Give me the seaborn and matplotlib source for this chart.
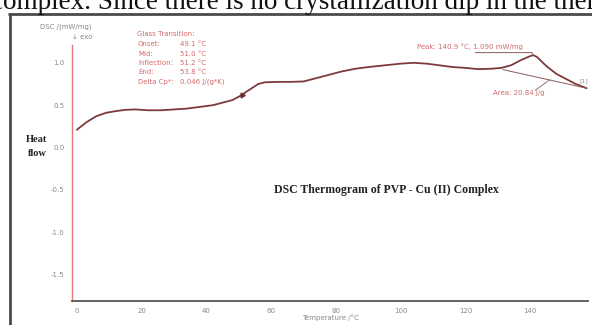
import matplotlib
matplotlib.use("Agg")
import matplotlib.pyplot as plt
import seaborn as sns
import pandas as pd
from matplotlib.lines import Line2D
from matplotlib.ticker import MultipleLocator

# DSC heating curve of the PVP - Cu(II) complex
temperature = [0, 3, 6, 9, 12, 15, 18, 22, 26, 30, 34, 38, 42, 45, 48, 50, 52, 54,
               56, 58, 62, 66, 70, 74, 78, 82, 86, 90, 95, 100, 104, 108, 112, 116,
               120, 124, 128, 131, 134, 137, 140, 140.9, 142, 145, 148, 151, 154, 157.4]
heat_flow = [0.21, 0.30, 0.37, 0.41, 0.43, 0.445, 0.45, 0.44, 0.44, 0.45, 0.46, 0.48,
             0.50, 0.53, 0.56, 0.60, 0.65, 0.70, 0.75, 0.77, 0.775, 0.775, 0.78, 0.82,
             0.86, 0.90, 0.93, 0.95, 0.97, 0.99, 1.00, 0.99, 0.97, 0.95, 0.94, 0.925,
             0.93, 0.94, 0.97, 1.03, 1.08, 1.09, 1.07, 0.96, 0.87, 0.81, 0.75, 0.70]

# integration baseline under the melting peak
baseline_t = [131.5, 157.4]
baseline_hf = [0.92, 0.70]

x_ticks = [0, 20, 40, 60, 80, 100, 120, 140]
y_ticks = [1.0, 0.5, 0.0, -0.5, -1.0, -1.5]
y_tick_labels = ["1.0", "0.5", "0.0", "-0.5", "-1.0", "-1.5"]

glass_labels = ["Onset:", "Mid:", "Inflection:", "End:", "Delta Cp*:"]
glass_values = ["49.1 °C", "51.0 °C", "51.2 °C", "53.8 °C", "0.046 J/(g*K)"]
tg_mid = 51.0
tg_mid_hf = 0.62
peak_t = 140.9
peak_hf = 1.09
area_text = "Area: 20.84 J/g"

df = pd.DataFrame({"Temperature": temperature, "Heat flow": heat_flow})

sns.set_style("white")
plt.rcParams["font.family"] = ["DejaVu Sans"]

W, H = 592, 325
fig = plt.figure(figsize=(W / 100, H / 100), dpi=100)
fig.patch.set_facecolor("white")

def fx(px):
    return px / W

def fy(py):
    return 1 - py / H

ax = fig.add_axes([fx(72), fy(301), fx(588) - fx(72), fy(45) - fy(301)])
ax.set_facecolor("white")

curve_color = "#7d3b3b"
sns.lineplot(data=df, x="Temperature", y="Heat flow", ax=ax, color=curve_color,
             linewidth=1.3, sort=False)
ax.plot(baseline_t, baseline_hf, color="#8a5a5a", linewidth=0.7)
ax.plot([tg_mid], [tg_mid_hf], marker=(3, 0, 30), markersize=4, color="#6a3030")

ax.set_xlim(-1.5, 157.8)
ax.set_ylim(-1.81, 1.21)
ax.set_xticks(x_ticks)
ax.set_xticklabels([str(t) for t in x_ticks])
ax.xaxis.set_minor_locator(MultipleLocator(10))
ax.set_yticks(y_ticks)
ax.set_yticklabels(y_tick_labels)
ax.set_xlabel("")
ax.set_ylabel("")

for side in ["top", "right"]:
    ax.spines[side].set_visible(False)
ax.spines["left"].set_color("#e07a7a")
ax.spines["left"].set_linewidth(1.0)
ax.spines["bottom"].set_color("#555555")
ax.spines["bottom"].set_linewidth(1.3)

ax.tick_params(axis="x", which="major", direction="inout", length=4, width=1.0,
               color="#444444", labelsize=5, labelcolor="#8a8a8a", pad=3)
ax.tick_params(axis="x", which="minor", direction="inout", length=2.5, width=0.7,
               color="#999999")
ax.tick_params(axis="y", which="major", direction="out", length=2.5, width=0.7,
               color="#999999", labelsize=5, labelcolor="#8a8a8a", pad=3)

# Glass transition result block
red_text = "#d06a6a"
ax_text_kw = dict(transform=fig.transFigure, fontsize=5, color=red_text)
fig.text(fx(137), fy(34), "Glass Transition:", va="center", ha="left", **ax_text_kw)
for i, (lab, val) in enumerate(zip(glass_labels, glass_values)):
    y = 44.5 + i * 9.3
    fig.text(fx(138), fy(y), lab, va="center", ha="left", **ax_text_kw)
    fig.text(fx(180), fy(y), val, va="center", ha="left", **ax_text_kw)

# Peak annotation with leader line
ax.text(121.5, 1.195, f"Peak: {peak_t:.1f} °C, {peak_hf:.3f} mW/mg", fontsize=5,
        color=red_text, ha="center", va="center")
ax.plot([123, 140.5, peak_t], [1.12, 1.12, peak_hf], color="#8a5a5a", linewidth=0.7)

# Area annotation with leader line
ax.text(136.5, 0.645, area_text, fontsize=5, color=red_text, ha="center", va="center")
ax.plot([141.5, 146], [0.675, 0.80], color="#8a5a5a", linewidth=0.6)
ax.text(156.5, 0.79, "[1]", fontsize=4.5, color="#8a8a8a", ha="center", va="center")

# Axis captions
fig.text(fx(66), fy(27), "DSC /(mW/mg)", fontsize=5, color="#8a8a8a", ha="center", va="center")
fig.text(fx(82), fy(37), "↓ exo", fontsize=5, color="#8a8a8a", ha="center", va="center")
fig.text(fx(330), fy(318), "Temperature /°C", fontsize=5, color="#8a8a8a", ha="center", va="center")

serif = ["Liberation Serif", "DejaVu Serif"]
fig.text(fx(37), fy(140), "Heat", fontsize=7.5, fontweight="bold", family=serif,
         ha="center", va="center", color="#222222")
fig.text(fx(37), fy(153), "flow", fontsize=7.5, fontweight="bold", family=serif,
         ha="center", va="center", color="#222222")
fig.text(fx(386), fy(190), "DSC Thermogram of PVP - Cu (II) Complex", fontsize=8.5,
         fontweight="bold", family=serif, ha="center", va="center", color="#222222")

# Surrounding page: frame and the running text line above it
fig.add_artist(Line2D([fx(9), fx(600)], [fy(14), fy(14)], color="#4a4a4a", linewidth=2.0))
fig.add_artist(Line2D([fx(10), fx(10)], [fy(14), fy(330)], color="#4a4a4a", linewidth=2.0))
fig.text(fx(-9), fy(9), "complex. Since there is no crystallization dip in the thermogram",
         fontsize=19.5, family=serif, ha="left", va="baseline", color="#111111")

fig.savefig("out.png", dpi=100, facecolor="white")
